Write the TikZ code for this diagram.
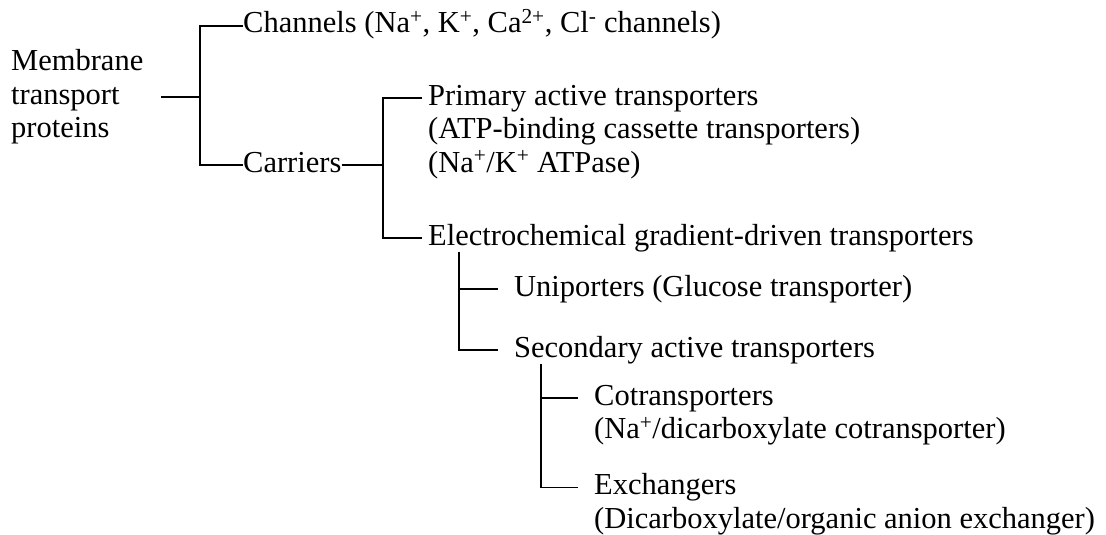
\documentclass[tikz,border=0pt]{standalone}
\usepackage{fontspec}
\setmainfont{Liberation Serif}

\begin{document}
\begin{tikzpicture}[x=1pt,y=1pt,
  every node/.style={font=\fontsize{30.5}{33.5}\selectfont},
  txt/.style={anchor=base west, inner sep=0pt, text height=21pt, text depth=6.7pt},
  tree/.style={line width=1.6pt}]

\newcommand\LS{33.5}

  \useasboundingbox (0,0) rectangle (1106,-535);

  %% root
  \node[anchor=west, inner sep=0pt, align=left] (root) at (11,-97)
  {Membrane\\transport\\proteins};

  %% first level
  \node[txt] (chan) at (243,-33) {Channels (Na\textsuperscript{+}, K\textsuperscript{+},
    Ca\textsuperscript{2+}, Cl\textsuperscript{-} channels)};
  \node[txt] (carr) at (243,-172) {Carriers};

  %% carriers
  \node[txt] (prim) at (428,-105) {Primary active transporters};
  \node[txt] (atp) at (428,-105-\LS) {(ATP-binding cassette transporters)};
  \node[txt] (nak) at (428,-105-2*\LS) {(Na\textsuperscript{+}/K\textsuperscript{+} ATPase)};
  \node[txt] (elec) at (428,-245) {Electrochemical gradient-driven transporters};

  %% gradient-driven
  \node[txt] (uni) at (514,-296) {Uniporters (Glucose transporter)};
  \node[txt] (sec) at (514,-357) {Secondary active transporters};

  %% secondary
  \node[txt] (cot) at (594,-405) {Cotransporters};
  \node[txt] (nad) at (594,-405-\LS) {(Na\textsuperscript{+}/dicarboxylate cotransporter)};
  \node[txt] (exch) at (594,-528+\LS) {Exchangers};
  \node[txt] (dic) at (594,-528) {(Dicarboxylate/organic anion exchanger)};

  %% tree lines
  \coordinate (j1) at (root.west -| 200,0);
  \draw[tree] ([xshift=150pt]root.west) -- (j1);
  \draw[tree] (j1) |- (chan.west);
  \draw[tree] (j1) |- (carr.west);

  \coordinate (j2) at (carr.east -| 383,0);
  \draw[tree] (carr.east) -- (j2);
  \draw[tree, shorten >=6pt] (j2) |- (prim.west);
  \draw[tree, shorten >=6pt] (j2) |- (elec.west);

  \draw[tree, shorten >=16pt] (elec.south -| 459,0) |- (uni.west);
  \draw[tree, shorten >=16pt] (elec.south -| 459,0) |- (sec.west);

  \draw[tree, shorten >=16pt] (sec.south -| 541,0) |- (cot.west);
  \draw[tree, shorten >=16pt] (sec.south -| 541,0) |- (exch.west);

\end{tikzpicture}
\end{document}
